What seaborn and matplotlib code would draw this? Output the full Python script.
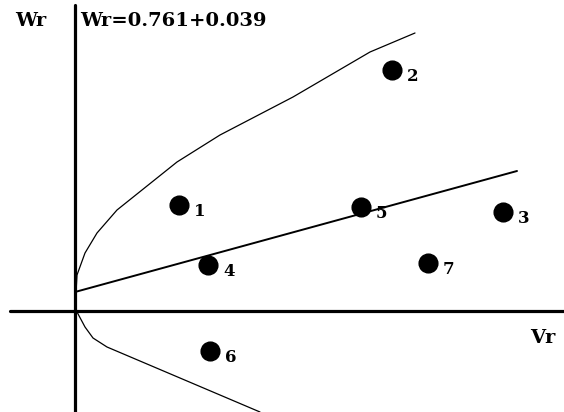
import pandas as pd
import matplotlib
matplotlib.use("Agg")
import matplotlib.pyplot as plt
import seaborn as sns

# parents (array points)
parents = ["1", "2", "3", "4", "5", "6", "7"]
vr = [1.04, 3.17, 4.28, 1.33, 2.86, 1.35, 3.53]
wr = [1.06, 2.41, 0.99, 0.46, 1.04, -0.40, 0.48]

# regression line
vr_reg = [0.00, 4.42]
wr_reg = [0.19, 1.40]

# limiting parabola, upper and lower branches
vr_up = [0.00, 0.02, 0.10, 0.22, 0.42, 1.02, 1.45, 2.18, 2.95, 3.40]
wr_up = [0.00, 0.36, 0.58, 0.78, 1.01, 1.49, 1.76, 2.14, 2.59, 2.78]
vr_low = [0.00, 0.02, 0.10, 0.18, 0.32, 1.85]
wr_low = [0.00, -0.01, -0.16, -0.27, -0.36, -1.01]

equation = "Wr=0.761+0.039"

sns.set_style("white")
plt.rcParams["font.family"] = ["DejaVu Serif"]
plt.rcParams["text.color"] = "black"

fig = plt.figure(figsize=(5.64, 4.12), dpi=100)
ax = fig.add_axes([0, 0, 1, 1])

df = pd.DataFrame({"Vr": vr, "Wr": wr, "parent": parents})
up = pd.DataFrame({"Vr": vr_up, "Wr": wr_up})
low = pd.DataFrame({"Vr": vr_low, "Wr": wr_low})
reg = pd.DataFrame({"Vr": vr_reg, "Wr": wr_reg})

# axes crossing at origin
ax.axhline(0, xmin=0.018, xmax=1, color="black", lw=2.3)
ax.axvline(0, ymin=0, ymax=0.988, color="black", lw=2.3)

sns.lineplot(data=up, x="Vr", y="Wr", sort=False, color="black", lw=0.9, ax=ax)
sns.lineplot(data=low, x="Vr", y="Wr", sort=False, color="black", lw=0.9, ax=ax)
sns.lineplot(data=reg, x="Vr", y="Wr", sort=False, color="black", lw=1.4, ax=ax)
sns.scatterplot(data=df, x="Vr", y="Wr", color="black", s=180, marker="o",
                edgecolor="black", ax=ax, zorder=5)

for _, row in df.iterrows():
    ax.annotate(row["parent"], (row["Vr"], row["Wr"]), xytext=(15, -5),
                textcoords="offset points", ha="center", va="center",
                fontsize=12, fontweight="bold", color="black")

ax.text(-0.6, 2.9, "Wr", fontsize=14, fontweight="bold", va="center", color="black")
ax.text(0.05, 2.9, equation, fontsize=14, fontweight="bold", va="center", color="black")
ax.text(4.55, -0.27, "Vr", fontsize=14, fontweight="bold", va="center", color="black")

ax.set_xlim(-0.75, 4.89)
ax.set_ylim(-1.01, 3.11)
ax.set_xlabel("")
ax.set_ylabel("")
ax.set_xticks([])
ax.set_yticks([])
sns.despine(ax=ax, left=True, bottom=True)

fig.savefig("out.png", dpi=100)
